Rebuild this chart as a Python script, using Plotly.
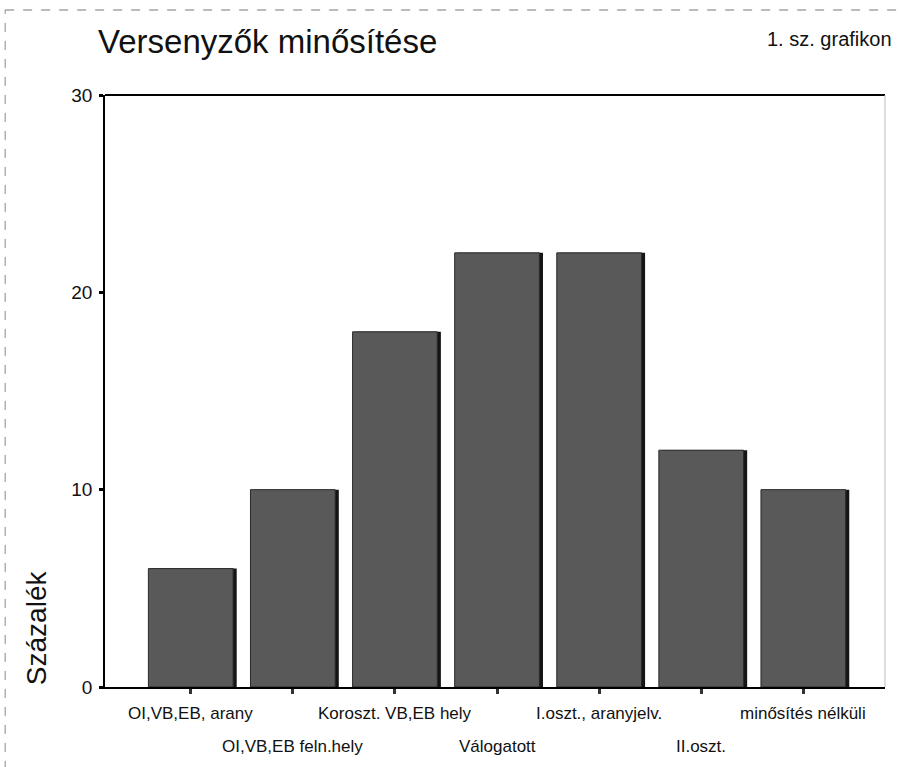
import plotly.graph_objects as go

categories = ["OI,VB,EB, arany", "OI,VB,EB feln.hely", "Koroszt. VB,EB hely",
              "Válogatott", "I.oszt., aranyjelv.", "II.oszt.", "minősítés nélküli"]
values = [6, 10, 18, 22, 22, 12, 10]
y_ticks = [0, 10, 20, 30]

FONT = "Liberation Sans"
xs = list(range(len(categories)))

fig = go.Figure()
# shadow (dark right edge)
fig.add_trace(go.Bar(x=xs, y=values, width=0.83, offset=-0.415 + 0.035,
                     marker=dict(color="#151515", line=dict(width=0)),
                     hoverinfo="skip", showlegend=False))
# main bars
fig.add_trace(go.Bar(x=xs, y=values, width=0.83, offset=-0.415,
                     marker=dict(color="#595959", line=dict(color="#2a2a2a", width=1)),
                     showlegend=False))

fig.update_layout(
    width=899, height=767,
    margin=dict(l=105, r=14, t=95, b=80),
    paper_bgcolor="white", plot_bgcolor="white",
    barmode="overlay",
    font=dict(family=FONT, color="#111"),
    xaxis=dict(range=[-0.84, 6.80], tickvals=xs, ticktext=[""] * len(xs),
               ticks="outside", ticklen=5, tickwidth=3, tickcolor="#333",
               showgrid=False, zeroline=False, showline=True, linecolor="black",
               linewidth=2, mirror=False, fixedrange=True),
    yaxis=dict(range=[0, 30], tickvals=y_ticks, ticks="outside", ticklen=4,
               tickwidth=3, tickcolor="black", showgrid=False, zeroline=False,
               showline=True, linecolor="black", linewidth=1.5,
               tickfont=dict(size=19, family=FONT), ticklabelstandoff=3,
               fixedrange=True),
)

# top border and right border of the plot frame
fig.add_shape(type="line", xref="paper", yref="paper", x0=0, x1=1, y0=1, y1=1,
              line=dict(color="black", width=2))
fig.add_shape(type="line", xref="paper", yref="paper", x0=1, x1=1, y0=0, y1=1,
              line=dict(color="#bbbbbb", width=1))

# outer scan frame
fig.add_shape(type="line", xref="paper", yref="paper", x0=-0.128, x1=1.02, y0=1.1436, y1=1.1436,
              line=dict(color="#777", width=1, dash="dash"))
fig.add_shape(type="line", xref="paper", yref="paper", x0=-0.128, x1=-0.128, y0=-0.14, y1=1.1436,
              line=dict(color="#888", width=1, dash="dash"))

# titles
fig.add_annotation(text="Versenyzők minősítése", xref="paper", yref="paper",
                   x=-0.011, y=1.09, xanchor="left", yanchor="middle", showarrow=False,
                   font=dict(size=33, family=FONT, color="#111"))
fig.add_annotation(text="1. sz. grafikon", xref="paper", yref="paper",
                   x=1.012, y=1.095, xanchor="right", yanchor="middle", showarrow=False,
                   font=dict(size=20, family=FONT, color="#111"))

# y axis title
fig.add_annotation(text="Százalék", xref="paper", yref="paper",
                   x=-0.088, y=0.1, xanchor="center", yanchor="middle", textangle=-90,
                   showarrow=False, font=dict(size=28, family=FONT, color="#111"))

# category labels on two rows
for i, c in enumerate(categories):
    yoff = -0.044 if i % 2 == 0 else -0.1
    fig.add_annotation(text=c, x=i, xref="x", yref="paper", y=yoff,
                       xanchor="center", yanchor="middle", showarrow=False,
                       font=dict(size=17, family=FONT, color="#111"))

fig.write_html("out.html")
